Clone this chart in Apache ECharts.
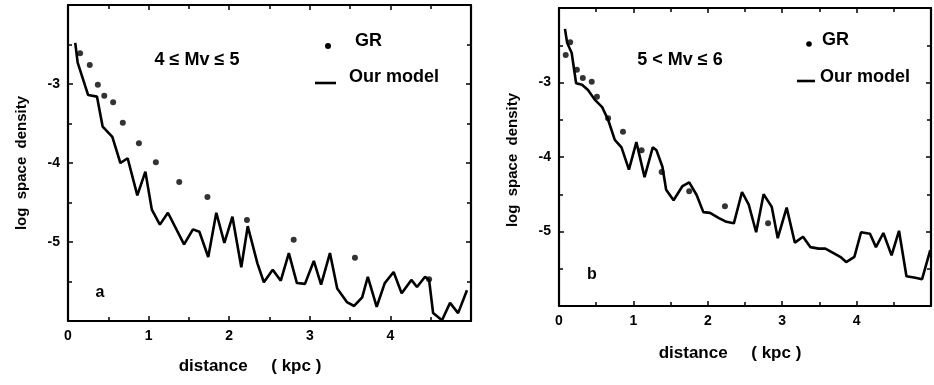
<!DOCTYPE html>
<html><head><meta charset="utf-8">
<script src="https://cdn.jsdelivr.net/npm/echarts@6/dist/echarts.min.js"></script>
<style>html,body{margin:0;padding:0;background:#fff}#c{width:934px;height:385px}</style>
</head><body><div id="c"></div>
<script>
// Panel a: 4 <= Mv <= 5
const modelA_x = [0.09,0.12,0.25,0.36,0.43,0.55,0.65,0.74,0.86,0.96,1.04,1.14,1.24,1.44,1.55,1.63,1.74,1.84,1.94,2.04,2.15,2.23,2.35,2.43,2.54,2.64,2.74,2.84,2.94,3.05,3.14,3.25,3.34,3.46,3.55,3.65,3.72,3.83,3.93,4.04,4.14,4.26,4.33,4.43,4.48,4.53,4.64,4.74,4.84,4.95];
const modelA_y = [-2.48,-2.73,-3.14,-3.16,-3.54,-3.67,-4.00,-3.94,-4.41,-4.11,-4.59,-4.78,-4.63,-5.03,-4.84,-4.87,-5.19,-4.63,-5.01,-4.68,-5.32,-4.80,-5.27,-5.51,-5.35,-5.49,-5.14,-5.52,-5.53,-5.24,-5.54,-5.14,-5.59,-5.76,-5.81,-5.70,-5.44,-5.82,-5.52,-5.38,-5.65,-5.48,-5.57,-5.44,-5.48,-5.90,-5.99,-5.77,-5.90,-5.61];
const grA_x = [0.15,0.27,0.37,0.45,0.56,0.68,0.88,1.09,1.38,1.73,2.22,2.80,3.56,4.48];
const grA_y = [-2.61,-2.76,-3.01,-3.15,-3.23,-3.49,-3.75,-3.99,-4.24,-4.43,-4.72,-4.97,-5.20,-5.47];
// Panel b: 5 < Mv <= 6
const modelB_x = [0.08,0.11,0.17,0.23,0.31,0.39,0.48,0.58,0.66,0.75,0.84,0.94,1.04,1.15,1.26,1.31,1.39,1.44,1.54,1.66,1.75,1.85,1.94,2.03,2.15,2.25,2.35,2.46,2.55,2.65,2.75,2.86,2.94,3.06,3.17,3.28,3.38,3.49,3.58,3.69,3.78,3.86,3.97,4.06,4.18,4.26,4.36,4.47,4.57,4.67,4.79,4.88,4.99];
const modelB_y = [-2.28,-2.47,-2.60,-3.01,-3.03,-3.10,-3.23,-3.33,-3.50,-3.77,-3.87,-4.17,-3.80,-4.27,-3.87,-3.91,-4.13,-4.44,-4.58,-4.39,-4.34,-4.51,-4.74,-4.75,-4.82,-4.87,-4.89,-4.47,-4.64,-5.01,-4.50,-4.67,-5.09,-4.68,-5.15,-5.07,-5.21,-5.23,-5.23,-5.29,-5.34,-5.41,-5.34,-5.01,-5.03,-5.21,-5.02,-5.32,-4.99,-5.60,-5.62,-5.64,-5.25];
const grB_x = [0.09,0.15,0.24,0.32,0.44,0.51,0.66,0.86,1.11,1.38,1.75,2.23,2.81];
const grB_y = [-2.63,-2.46,-2.83,-2.94,-2.99,-3.19,-3.48,-3.66,-3.91,-4.20,-4.46,-4.66,-4.89];
const xTicks = [0,1,2,3,4];
const yTicks = [-3,-4,-5];

const zip = (a,b) => a.map((v,i)=>[v,b[i]]);
const FONT = 'Liberation Sans';
const black = '#000';

function xAx(gi, pos, labels){
  return {type:'value', gridIndex:gi, position:pos, min:0, max:5, interval:1,
    axisLine:{show:true, onZero:false, lineStyle:{color:black, width:2.2}},
    axisTick:{show:true, inside:true, length:5, lineStyle:{color:black, width:1.5}},
    minorTick:{show:true, splitNumber:2, length:4, lineStyle:{color:black, width:1.5}},
    splitLine:{show:false},
    axisLabel:{show:labels, margin:8, color:black, fontFamily:FONT, fontWeight:'bold', fontSize:14,
      formatter:v=> xTicks.includes(v)? String(v):''}};
}
function yAx(gi, pos, labels){
  return {type:'value', gridIndex:gi, position:pos, min:-6, max:-2, interval:1,
    axisLine:{show:true, onZero:false, lineStyle:{color:black, width:2.2}},
    axisTick:{show:true, inside:true, length:5, lineStyle:{color:black, width:1.5}},
    minorTick:{show:true, splitNumber:2, length:4, lineStyle:{color:black, width:1.5}},
    splitLine:{show:false},
    axisLabel:{show:labels, margin:8, color:black, fontFamily:FONT, fontWeight:'bold', fontSize:14,
      formatter:v=> yTicks.includes(v)? String(v):''}};
}

const chart = echarts.init(document.getElementById('c'), null, {renderer:'canvas'});
const txt = (x,y,s,size,extra) => Object.assign({type:'text', x:x, y:y,
  style:{text:s, fill:black, font:'bold '+size+'px "'+FONT+'"', textAlign:'center', textVerticalAlign:'middle'}}, extra||{});

chart.setOption({
  animation:false,
  backgroundColor:'#fff',
  grid:[
    {left:68, top:5, width:403, height:316},
    {left:559, top:8, width:374, height:298}
  ],
  xAxis:[xAx(0,'bottom',true), xAx(0,'top',false), xAx(1,'bottom',true), xAx(1,'top',false)],
  yAxis:[yAx(0,'left',true), yAx(0,'right',false), yAx(1,'left',true), yAx(1,'right',false)],
  series:[
    {name:'Our model', type:'line', xAxisIndex:0, yAxisIndex:0, data:zip(modelA_x,modelA_y),
      showSymbol:false, lineStyle:{color:black, width:2.6}},
    {name:'GR', type:'scatter', xAxisIndex:0, yAxisIndex:0, data:zip(grA_x,grA_y),
      symbol:'circle', symbolSize:6, itemStyle:{color:black}},
    {name:'Our model', type:'line', xAxisIndex:2, yAxisIndex:2, data:zip(modelB_x,modelB_y),
      showSymbol:false, lineStyle:{color:black, width:2.6}},
    {name:'GR', type:'scatter', xAxisIndex:2, yAxisIndex:2, data:zip(grB_x,grB_y),
      symbol:'circle', symbolSize:6, itemStyle:{color:black}}
  ],
  graphic:[
    txt(22,163,'log  space  density',15,{rotation:Math.PI/2}),
    txt(513,160,'log  space  density',15,{rotation:Math.PI/2}),
    txt(250,366,'distance     ( kpc )',17),
    txt(730,353,'distance     ( kpc )',17),
    txt(197,60,'4 ≤ Mv ≤ 5',18),
    txt(680,60,'5 < Mv ≤ 6',18),
    txt(100,293,'a',16),
    txt(592,275,'b',16),
    {type:'circle', shape:{cx:328, cy:46, r:3}, style:{fill:black}},
    {type:'text', x:355, y:41, style:{text:'GR', fill:black, font:'bold 18px "'+FONT+'"', textVerticalAlign:'middle'}},
    {type:'line', shape:{x1:315, y1:83, x2:336, y2:83}, style:{stroke:black, lineWidth:2.6}},
    {type:'text', x:349, y:77, style:{text:'Our model', fill:black, font:'bold 18px "'+FONT+'"', textVerticalAlign:'middle'}},
    {type:'circle', shape:{cx:809, cy:44, r:2.8}, style:{fill:black}},
    {type:'text', x:822, y:40, style:{text:'GR', fill:black, font:'bold 18px "'+FONT+'"', textVerticalAlign:'middle'}},
    {type:'line', shape:{x1:797, y1:81, x2:815, y2:81}, style:{stroke:black, lineWidth:2.6}},
    {type:'text', x:820, y:77, style:{text:'Our model', fill:black, font:'bold 18px "'+FONT+'"', textVerticalAlign:'middle'}}
  ]
});
</script></body></html>
